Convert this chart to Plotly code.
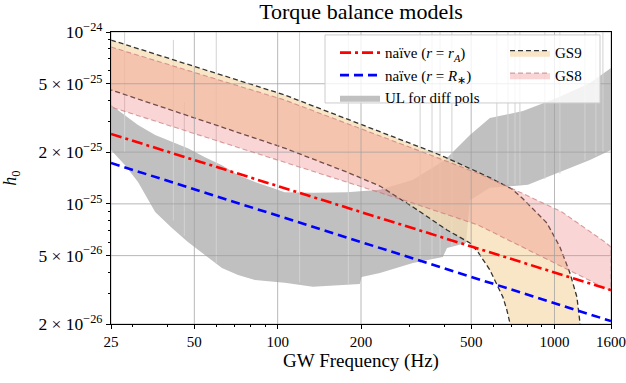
import math
import plotly.graph_objects as go

# --- data (frequency in Hz, strain h0) ---
naive_rA_f = [25, 1600]
naive_rA_h = [2.55e-25, 3.15e-26]

naive_Rs_f = [25, 1600]
naive_Rs_h = [1.73e-25, 2.08e-26]

gs9_upper_f = [25, 106, 364, 402, 529, 584, 702, 769, 939, 1046, 1137, 1205, 1236, 1250]
gs9_upper_h = [8.98e-25, 4.30e-25, 2.00e-25, 1.87e-25, 1.53e-25, 1.42e-25, 1.22e-25,
               1.07e-25, 7.74e-26, 5.61e-26, 3.96e-26, 2.87e-26, 2.03e-26, 1.0e-26]
gs9_lower_f = [25, 106, 178, 234, 308, 409, 495, 529, 584, 651, 673, 690, 700]
gs9_lower_h = [4.60e-25, 2.11e-25, 1.53e-25, 1.27e-25, 9.59e-26, 7.05e-26, 5.92e-26,
               5.25e-26, 4.13e-26, 2.87e-26, 2.41e-26, 2.03e-26, 1.0e-26]

gs8_upper_f = [25, 106, 364, 538, 750, 1064, 1521, 1600]
gs8_upper_h = [8.18e-25, 4.02e-25, 1.90e-25, 1.49e-25, 1.17e-25, 8.97e-26, 6.00e-26, 5.61e-26]
gs8_lower_f = [25, 106, 308, 529, 702, 923, 1215, 1521, 1600]
gs8_lower_h = [3.66e-25, 1.75e-25, 1.01e-25, 7.54e-26, 6.00e-26, 4.84e-26, 3.86e-26, 3.24e-26, 3.11e-26]

ul_upper_f = [25, 31.3, 36.1, 41.5, 47.4, 54.6, 62.9, 71.9, 82.8, 95.4, 106, 134, 178, 234,
              308, 402, 495, 584, 769, 1020, 1343, 1600]
ul_upper_h = [3.76e-25, 2.88e-25, 2.52e-25, 2.29e-25, 2.11e-25, 1.87e-25, 1.68e-25, 1.47e-25,
              1.34e-25, 1.24e-25, 1.17e-25, 1.16e-25, 1.17e-25, 1.21e-25, 1.38e-25, 1.80e-25,
              2.52e-25, 3.16e-25, 3.47e-25, 4.13e-25, 5.05e-25, 6.17e-25]
ul_lower_f = [25, 28.1, 31.3, 36.1, 41.5, 47.4, 54.6, 62.9, 71.9, 82.8, 106, 134, 178, 198,
              201, 234, 308, 395, 409, 479, 495, 584, 802, 1046, 1343, 1600]
ul_lower_h = [2.06e-25, 1.68e-25, 1.34e-25, 8.97e-26, 7.24e-26, 6.00e-26, 5.04e-26, 4.24e-26,
              3.86e-26, 3.61e-26, 3.47e-26, 3.29e-26, 3.39e-26, 3.42e-26, 3.76e-26, 3.96e-26,
              4.53e-26, 4.91e-26, 5.54e-26, 5.92e-26, 1.05e-25, 1.24e-25, 1.29e-25, 1.53e-25,
              1.80e-25, 2.06e-25]

# narrow instrumental lines in the upper limits
spike_f = [28, 42, 46, 60, 120, 180, 327, 361, 386, 426, 619, 679, 720, 750, 923, 1046, 1288, 1411, 1496]
spike_top = [1.2e-24, 9.0e-25, 3.9e-25, 1.2e-24, 1.2e-24, 1.2e-24, 1.2e-24, 1.2e-24, 1.2e-24,
             1.2e-24, 1.2e-24, 1.2e-24, 1.2e-24, 1.2e-24, 1.2e-24, 1.2e-24, 1.2e-24, 1.2e-24, 1.2e-24]
spike_base = [2.0e-25, 8.0e-26, 6.5e-26, 4.5e-26, 3.5e-26, 3.4e-26, 4.5e-26, 4.8e-26, 5.0e-26,
              5.6e-26, 1.3e-25, 1.3e-25, 1.3e-25, 1.3e-25, 1.4e-25, 1.5e-25, 1.8e-25, 1.9e-25, 2.0e-25]

x_ticks = [25, 50, 100, 200, 500, 1000, 1600]
x_minor = [30, 40, 60, 70, 80, 90, 300, 400, 600, 700, 800, 900]
y_ticks = [2e-26, 5e-26, 1e-25, 2e-25, 5e-25, 1e-24]
y_ticktext = ["2 × 10<sup>−26</sup>", "5 × 10<sup>−26</sup>", "10<sup>−25</sup>",
              "2 × 10<sup>−25</sup>", "5 × 10<sup>−25</sup>", "10<sup>−24</sup>"]
y_minor = [3e-26, 4e-26, 6e-26, 7e-26, 8e-26, 9e-26, 3e-25, 4e-25, 6e-25, 7e-25, 8e-25, 9e-25]

x_lim = [25, 1600]
y_lim = [2e-26, 1e-24]

FONT = "Liberation Serif"

fig = go.Figure()

# UL band
fig.add_trace(go.Scatter(
    x=ul_upper_f + ul_lower_f[::-1], y=ul_upper_h + ul_lower_h[::-1],
    fill="toself", fillcolor="#c0c0c0", mode="lines", line=dict(width=0, color="#c0c0c0"),
    name="UL for diff pols", legend="legend", legendrank=3, hoverinfo="skip"))

sx, sy = [], []
for f, lo, hi in zip(spike_f, spike_base, spike_top):
    sx += [f, f, None]
    sy += [lo, hi, None]
fig.add_trace(go.Scatter(x=sx, y=sy, mode="lines", line=dict(color="#d2d2d2", width=1),
                         showlegend=False, hoverinfo="skip"))

# GS9 / GS8 bands
fig.add_trace(go.Scatter(
    x=gs9_upper_f + gs9_lower_f[::-1], y=gs9_upper_h + gs9_lower_h[::-1],
    fill="toself", fillcolor="rgba(245,222,179,0.75)", mode="lines",
    line=dict(color="#333333", width=1.3, dash="5px,3px"),
    name="GS9", legend="legend2", hoverinfo="skip"))
fig.add_trace(go.Scatter(
    x=gs8_upper_f + gs8_lower_f[::-1], y=gs8_upper_h + gs8_lower_h[::-1],
    fill="toself", fillcolor="rgba(240,128,128,0.33)", mode="lines",
    line=dict(color="rgba(200,120,120,0.7)", width=1.1, dash="5px,3px"),
    name="GS8", legend="legend2", hoverinfo="skip"))

# grid drawn above the bands, below the lines (like matplotlib)
gx, gy = [], []
for v in x_ticks:
    gx += [v, v, None]
    gy += [y_lim[0], y_lim[1], None]
for v in y_ticks:
    gx += [x_lim[0], x_lim[1], None]
    gy += [v, v, None]
fig.add_trace(go.Scatter(x=gx, y=gy, mode="lines", line=dict(color="rgba(160,160,160,0.75)", width=1),
                         showlegend=False, hoverinfo="skip"))

fig.add_trace(go.Scatter(x=naive_rA_f, y=naive_rA_h, mode="lines",
                         line=dict(color="red", width=2.6, dash="11px,4px,3px,4px"),
                         name="naïve (<i>r</i> = <i>r</i><sub><i>A</i></sub>)", legend="legend", legendrank=1))
fig.add_trace(go.Scatter(x=naive_Rs_f, y=naive_Rs_h, mode="lines",
                         line=dict(color="blue", width=2.6, dash="9px,5px"),
                         name="naïve (<i>r</i> = <i>R</i><sub>∗</sub>)", legend="legend", legendrank=2))

axis_common = dict(type="log", showline=True, linecolor="black", linewidth=1, mirror=True,
                   ticks="outside", ticklen=4, tickwidth=1, tickcolor="black", showgrid=False,
                   zeroline=False, automargin=False)

fig.update_xaxes(**axis_common, range=[math.log10(x_lim[0]), math.log10(x_lim[1])],
                 tickmode="array", tickvals=x_ticks, ticktext=[str(v) for v in x_ticks],
                 tickfont=dict(family=FONT, size=15, color="black"),
                 minor=dict(tickmode="array", tickvals=x_minor, ticks="outside", ticklen=2,
                            tickcolor="black", showgrid=False),
                 title=dict(text="GW Frequency (Hz)", font=dict(family=FONT, size=19, color="black"),
                            standoff=2))
fig.update_yaxes(**axis_common, range=[math.log10(y_lim[0]), math.log10(y_lim[1])],
                 tickmode="array", tickvals=y_ticks, ticktext=y_ticktext,
                 tickfont=dict(family=FONT, size=17.5, color="black"),
                 minor=dict(tickmode="array", tickvals=y_minor, ticks="outside", ticklen=2,
                            tickcolor="black", showgrid=False),
                 title=dict(text="<i>h</i><sub>0</sub>", font=dict(family=FONT, size=18, color="black"),
                            standoff=18))

leg_font = dict(family=FONT, size=15, color="black")
fig.update_layout(
    width=626, height=383,
    margin=dict(l=111, r=15, t=32, b=59),
    plot_bgcolor="white", paper_bgcolor="white",
    title=dict(text="Torque balance models", x=0.5, xref="paper", y=1 - 11 / 383, yanchor="middle",
               font=dict(family=FONT, size=22, color="black")),
    legend=dict(x=0.448, y=0.985, xanchor="left", yanchor="top", bgcolor="rgba(0,0,0,0)",
                font=leg_font, itemwidth=40, tracegroupgap=0),
    legend2=dict(x=0.788, y=0.985, xanchor="left", yanchor="top", bgcolor="rgba(0,0,0,0)",
                 font=leg_font, itemwidth=40, tracegroupgap=0),
    shapes=[dict(type="rect", xref="paper", yref="paper", x0=0.428, x1=0.978, y0=0.757, y1=0.99,
                 fillcolor="rgba(255,255,255,0.8)", line=dict(color="#cccccc", width=1), layer="above")],
    showlegend=True,
)

# page body has a default 8px margin; drop it so the figure sits at the window origin
fig.write_html("out.html", config={"displayModeBar": False},
               post_script="document.body.style.margin='0';")
